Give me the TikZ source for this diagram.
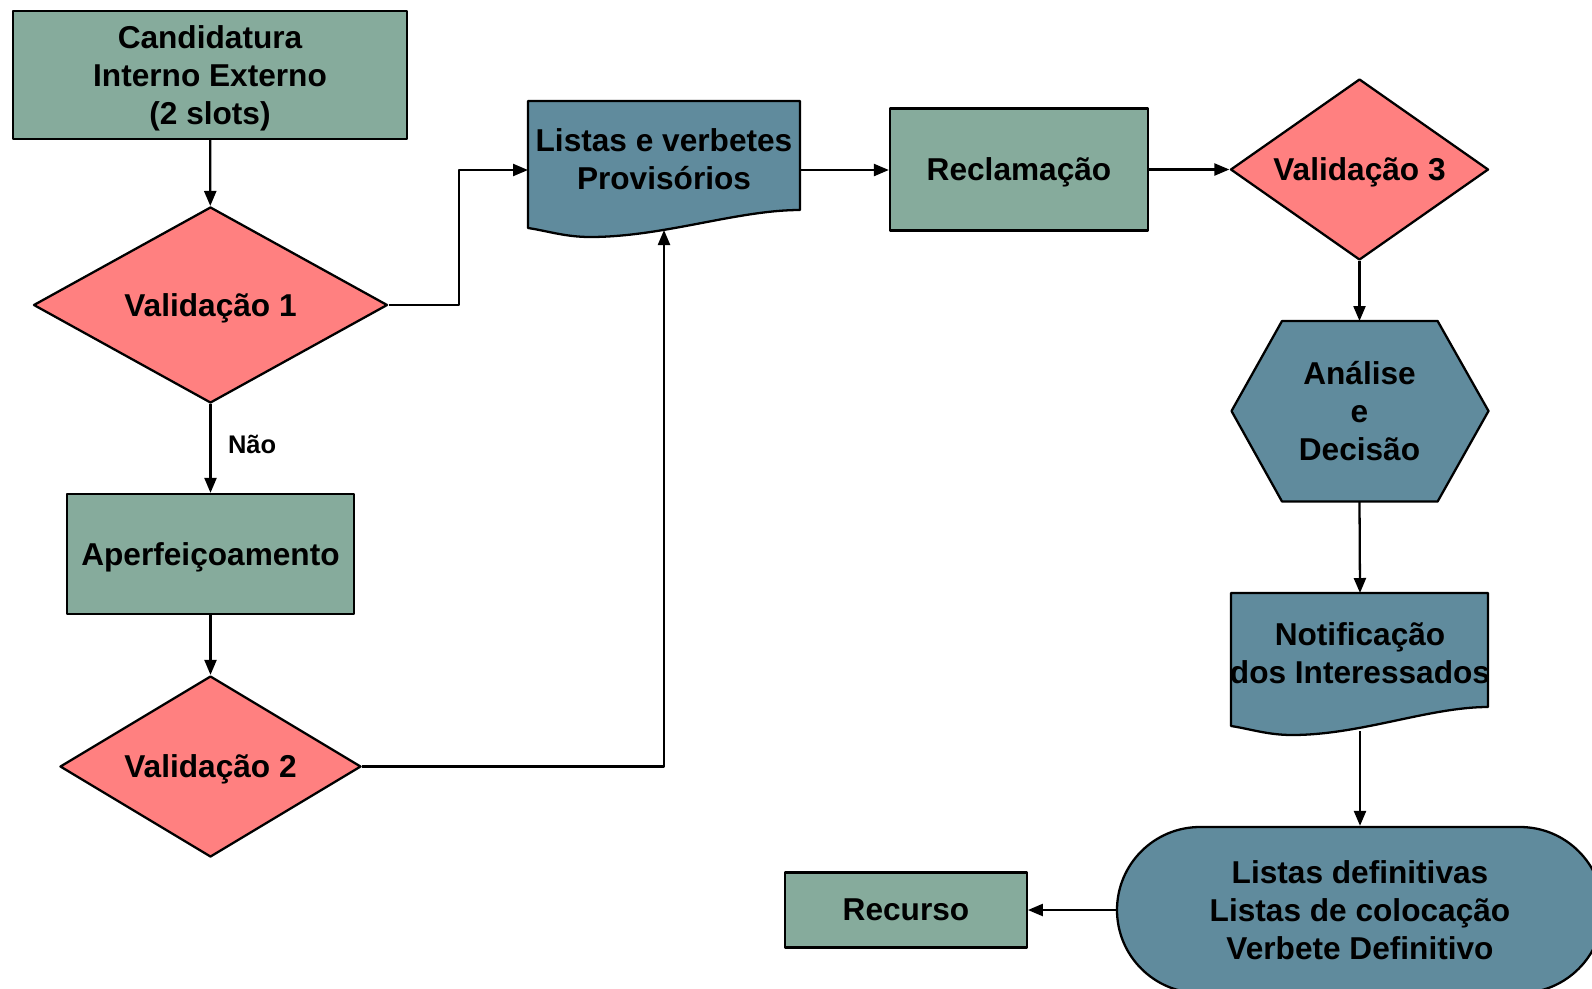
\documentclass[tikz,border=0pt]{standalone}
\usepackage{fontspec}
\setmainfont{Liberation Sans}
\usetikzlibrary{shapes.geometric,shapes.misc,arrows.meta,backgrounds}
\definecolor{boxgreen}{RGB}{134,171,156}
\definecolor{slate}{RGB}{96,139,157}
\definecolor{pinkred}{RGB}{255,128,128}
\def\pxu{0.02cm}
\tikzset{
  base/.style={draw, line width=1.3pt, font=\fontsize{18}{21.4}\selectfont\bfseries, align=center, inner sep=0pt, text depth=0pt},
  greenbox/.style={base, rectangle, fill=boxgreen},
  decision/.style={base, diamond, fill=pinkred},
  terminal/.style={base, rounded rectangle, fill=slate},
  txt/.style={font=\fontsize{18}{21.4}\selectfont\bfseries, align=center, inner sep=0pt},
  arr/.style={->, line width=1.3pt},
}
% document shape: x1, x2, top, right bottom, left bottom, dip, dip x
\newcommand{\docshape}[7]{%
  \filldraw[fill=slate, line width=1.3pt] (#1,#3) -- (#2,#3) -- (#2,#4)
    .. controls ({#2-0.3*(#2-#7)},#4) and ({#7+0.35*(#2-#7)},#6) .. (#7,#6)
    .. controls ({#7-0.4*(#7-#1)},#6) and ({#1+0.3*(#7-#1)},{#5+0.3*(#6-#5)}) .. (#1,#5) -- cycle;}
\begin{document}
\begin{tikzpicture}[x=0.02cm, y=-0.02cm, >={Triangle[length=0.3cm,width=0.24cm]}, line join=round]
\useasboundingbox (0,0) rectangle (1592,988);
\clip (0,0) rectangle (1592,988);
% left column
\node[greenbox, minimum width=394*\pxu, minimum height=128*\pxu] (cand) at (210,75) {Candidatura\\Interno Externo\\(2 slots)};
\node[decision, shape aspect=1.8, minimum width=354*\pxu, minimum height=196*\pxu] (val1) at (210.5,305) {Validação 1};
\node[greenbox, minimum width=287*\pxu, minimum height=120*\pxu] (aperf) at (210.5,554) {Aperfeiçoamento};
\node[decision, shape aspect=1.66, minimum width=301*\pxu, minimum height=181*\pxu] (val2) at (210.5,766.5) {Validação 2};
% top row
\docshape{528}{800}{101}{210}{228}{237}{590}
\node[txt] (prov) at (664,159) {Listas e verbetes\\Provisórios};
\coordinate (provW) at (528,170);
\coordinate (provE) at (800,170);
\coordinate (provS) at (664,230);
\node[greenbox, minimum width=258*\pxu, minimum height=122*\pxu] (recl) at (1019,169.5) {Reclamação};
\node[decision, shape aspect=1.43, minimum width=258*\pxu, minimum height=181*\pxu] (val3) at (1359.5,169.5) {Validação 3};
% right column
\filldraw[fill=slate, line width=1.3pt] (1231.5,411) -- (1282,321) -- (1437.6,321) -- (1488.5,411) -- (1437.6,501.5) -- (1282,501.5) -- cycle;
\node[txt] (anal) at (1359.5,411) {Análise\\e\\Decisão};
\coordinate (analN) at (1359.5,321);
\coordinate (analS) at (1359.5,501.5);
\docshape{1231}{1488}{593}{707}{726}{735}{1292}
\node[txt] (notif) at (1360,653) {Notificação\\dos Interessados};
\coordinate (notifN) at (1360,593);
\coordinate (notifS) at (1360,731);
\node[terminal, minimum width=486*\pxu, minimum height=166*\pxu] (term) at (1360,910) {Listas definitivas\\Listas de colocação\\Verbete Definitivo};
\node[greenbox, minimum width=241.5*\pxu, minimum height=75*\pxu] (recurso) at (906,910) {Recurso};
% connectors
\draw[arr] (cand) -- (val1);
\draw[arr] (val1) -- node[right=6pt, font=\fontsize{14.5}{17}\selectfont\bfseries, pos=0.45] {Não} (aperf);
\draw[arr] (aperf) -- (val2);
\draw[arr] (val1.east) -- ++(70,0) |- (provW);
\draw[arr] (val2.east) -| (provS);
\draw[arr] (provE) -- (provE -| recl.west);
\draw[arr] (recl.east) -- (val3.west);
\draw[arr] (val3.south) -- (analN);
\draw[arr] (analS) -- (notifN);
\draw[arr] (notifS) -- (term.north);
\draw[arr] (term.west) -- (recurso.east);
\end{tikzpicture}
\end{document}
